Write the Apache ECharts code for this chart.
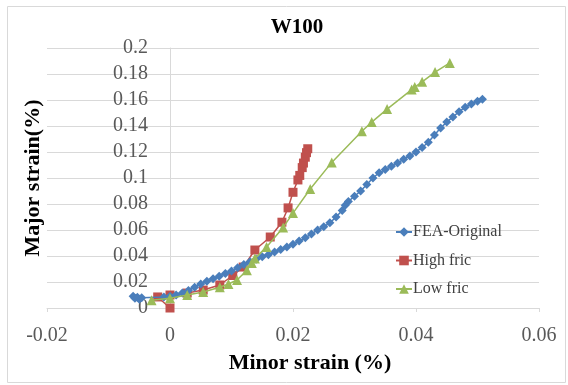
<!DOCTYPE html>
<html>
<head>
<meta charset="utf-8">
<script src="https://cdn.jsdelivr.net/npm/echarts@6/dist/echarts.min.js"></script>
<style>
  html, body { margin: 0; padding: 0; background: #fff; }
  #chart { width: 568px; height: 385px; }
</style>
</head>
<body>
<div id="chart"></div>
<script>
// axis ticks
const xTicks = [-0.02, 0, 0.02, 0.04, 0.06];
const yTicks = [0, 0.02, 0.04, 0.06, 0.08, 0.1, 0.12, 0.14, 0.16, 0.18, 0.2];

// FEA-Original [minor, major]
const feaOriginal = [
  [-0.0060, 0.0090], [-0.0057, 0.0075], [-0.0053, 0.0082], [-0.0050, 0.0068],
  [-0.0046, 0.0078], [-0.0010, 0.0085], [0.0000, 0.0090], [0.0010, 0.0100],
  [0.0020, 0.0115], [0.0030, 0.0135], [0.0040, 0.0160], [0.0050, 0.0185],
  [0.0060, 0.0205], [0.0070, 0.0225], [0.0080, 0.0245], [0.0090, 0.0265],
  [0.0100, 0.0285], [0.0110, 0.0310], [0.0120, 0.0335], [0.0130, 0.0355],
  [0.0140, 0.0375], [0.0150, 0.0395], [0.0160, 0.0410], [0.0170, 0.0430],
  [0.0180, 0.0450], [0.0190, 0.0470], [0.0200, 0.0490], [0.0210, 0.0515],
  [0.0220, 0.0540], [0.0230, 0.0570], [0.0240, 0.0600], [0.0250, 0.0625],
  [0.0260, 0.0655], [0.0270, 0.0700], [0.0280, 0.0750], [0.0285, 0.0790],
  [0.0290, 0.0820], [0.0300, 0.0860], [0.0310, 0.0900], [0.0320, 0.0950],
  [0.0330, 0.1000], [0.0340, 0.1040], [0.0350, 0.1065], [0.0360, 0.1090],
  [0.0370, 0.1115], [0.0380, 0.1145], [0.0390, 0.1170], [0.0400, 0.1200],
  [0.0410, 0.1235], [0.0420, 0.1275], [0.0430, 0.1330], [0.0440, 0.1385],
  [0.0450, 0.1430], [0.0460, 0.1470], [0.0470, 0.1510], [0.0480, 0.1545],
  [0.0490, 0.1570], [0.0500, 0.1590], [0.0508, 0.1605]
];

// High fric
const highFric = [
  [0.0000, 0.0000], [-0.0020, 0.0085], [0.0000, 0.0100], [0.0028, 0.0115],
  [0.0054, 0.0138], [0.0081, 0.0177], [0.0102, 0.0250], [0.0119, 0.0315],
  [0.0138, 0.0446], [0.0163, 0.0546], [0.0182, 0.0660], [0.0192, 0.0770],
  [0.0200, 0.0890], [0.0208, 0.0985], [0.0211, 0.1020], [0.0215, 0.1080],
  [0.0217, 0.1115], [0.0220, 0.1160], [0.0222, 0.1195], [0.0224, 0.1225]
];

// Low fric
const lowFric = [
  [-0.0030, 0.0060], [0.0000, 0.0075], [0.0028, 0.0100], [0.0054, 0.0123],
  [0.0081, 0.0160], [0.0095, 0.0185], [0.0109, 0.0215], [0.0125, 0.0290],
  [0.0133, 0.0346], [0.0138, 0.0380], [0.0157, 0.0470], [0.0184, 0.0620],
  [0.0200, 0.0730], [0.0228, 0.0915], [0.0263, 0.1120], [0.0312, 0.1360],
  [0.0328, 0.1430], [0.0353, 0.1530], [0.0393, 0.1680], [0.0398, 0.1700],
  [0.0410, 0.1740], [0.0431, 0.1815], [0.0455, 0.1885]
];

const serif = '"Liberation Serif", "DejaVu Serif", serif';

const chart = echarts.init(document.getElementById('chart'));

chart.setOption({
  animation: false,
  textStyle: { fontFamily: serif },
  title: {
    text: 'W100',
    left: 292,
    textAlign: 'center',
    top: 12,
    textStyle: { fontFamily: serif, fontSize: 21, fontWeight: 'bold', color: '#000' }
  },
  graphic: [{
    type: 'rect',
    shape: { x: 7.5, y: 6.5, width: 558, height: 376 },
    style: { fill: 'none', stroke: '#d9d9d9', lineWidth: 1 },
    silent: true
  }],
  legend: {
    orient: 'vertical',
    left: 390,
    top: 219,
    itemWidth: 16,
    itemHeight: 12,
    itemGap: 12.5,
    textStyle: { fontFamily: serif, fontSize: 16, color: '#404040', padding: [0, 0, 0, -4] },
    data: ['FEA-Original', 'High fric', 'Low fric']
  },
  grid: { left: 47, right: 29, top: 48, bottom: 77, containLabel: false, outerBoundsMode: 'none' },
  xAxis: {
    type: 'value',
    min: xTicks[0],
    max: xTicks[xTicks.length - 1],
    interval: 0.02,
    name: 'Minor strain (%)',
    nameLocation: 'middle',
    nameGap: 44,
    nameTextStyle: { fontFamily: serif, fontSize: 22, fontWeight: 'bold', color: '#000', padding: [0, 0, 0, 34] },
    axisLine: { show: true, lineStyle: { color: '#d9d9d9' } },
    axisTick: { show: true, length: 4, lineStyle: { color: '#d9d9d9' } },
    axisLabel: { fontFamily: serif, fontSize: 20, color: '#595959', margin: 18 },
    splitLine: { show: false }
  },
  yAxis: {
    type: 'value',
    min: yTicks[0],
    max: yTicks[yTicks.length - 1],
    interval: 0.02,
    // axis sits at minor strain = 0 (123px right of grid left)
    offset: -123,
    name: 'Major strain(%)',
    nameLocation: 'middle',
    nameGap: 126,
    nameTextStyle: { fontFamily: serif, fontSize: 22, fontWeight: 'bold', color: '#000' },
    axisLine: { show: true, onZero: false, lineStyle: { color: '#d9d9d9' } },
    axisTick: { show: false },
    axisLabel: { fontFamily: serif, fontSize: 20, color: '#595959', margin: 22 },
    splitLine: { show: true, lineStyle: { color: '#d9d9d9' } }
  },
  series: [
    {
      name: 'FEA-Original',
      type: 'line',
      data: feaOriginal,
      symbol: 'diamond',
      symbolSize: 9,
      itemStyle: { color: '#4a7ebb' },
      lineStyle: { color: '#4a7ebb', width: 1.5 },
      z: 3
    },
    {
      name: 'High fric',
      type: 'line',
      data: highFric,
      symbol: 'rect',
      symbolSize: 9,
      itemStyle: { color: '#c0504d' },
      lineStyle: { color: '#c0504d', width: 1.5 },
      z: 2
    },
    {
      name: 'Low fric',
      type: 'line',
      data: lowFric,
      symbol: 'triangle',
      symbolSize: 10,
      itemStyle: { color: '#9bbb59' },
      lineStyle: { color: '#9bbb59', width: 1.5 },
      z: 4
    }
  ]
});

window.addEventListener('resize', () => chart.resize());
</script>
</body>
</html>
